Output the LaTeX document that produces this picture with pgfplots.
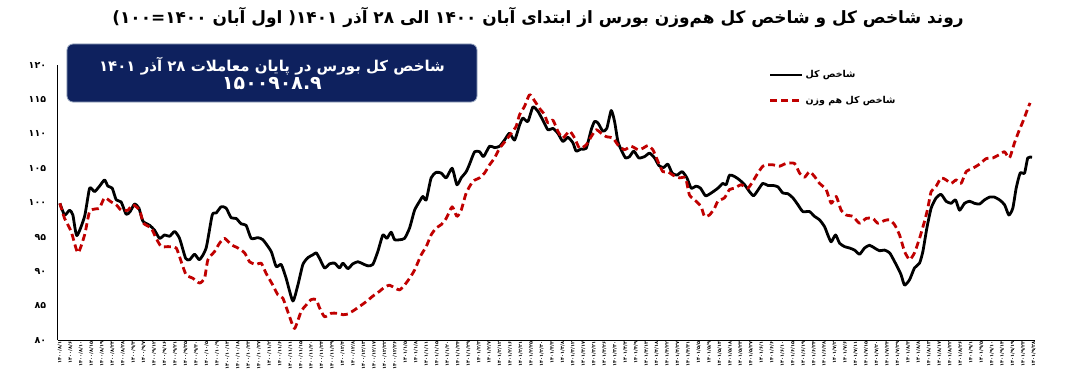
\documentclass[border=0pt]{standalone}
\usepackage{fontspec}
\usepackage{pgfplots}
\pgfplotsset{compat=1.18}
\TeXXeTstate=1
\newfontfamily\fa[Script=Arabic]{DejaVu Sans}
\newfontfamily\fanum{DejaVu Sans}
\definecolor{navy}{RGB}{14,33,94}
\definecolor{dred}{RGB}{192,0,0}
\definecolor{boxedge}{RGB}{150,165,190}
\begin{document}
\begin{tikzpicture}[x=1bp,y=1bp]
\useasboundingbox (0,0) rectangle (1079,380);
\begin{axis}[
  at={(55,58)}, anchor=south west,
  width=977bp, height=275bp, scale only axis,
  xmin=-0.22, xmax=93.1, ymin=80, ymax=120,
  axis x line=bottom, axis y line=left,
  axis line style={-, line width=0.9bp},
  major tick length=0pt,
  ytick={80,85,...,120},
  yticklabels={۸۰,۸۵,۹۰,۹۵,۱۰۰,۱۰۵,۱۱۰,۱۱۵,۱۲۰},
  yticklabel style={font=\fanum\bfseries\fontsize{9.5}{9.5}\selectfont, xshift=-8bp},
  xtick={0,...,93},
  xticklabels={۱۴۰۰/۸/۱,۱۴۰۰/۸/۶,۱۴۰۰/۸/۱۰,۱۴۰۰/۸/۱۵,۱۴۰۰/۸/۱۹,۱۴۰۰/۸/۲۴,۱۴۰۰/۸/۲۸,۱۴۰۰/۹/۳,۱۴۰۰/۹/۷,۱۴۰۰/۹/۱۲,۱۴۰۰/۹/۱۶,۱۴۰۰/۹/۲۱,۱۴۰۰/۹/۲۵,۱۴۰۰/۹/۳۰,۱۴۰۰/۱۰/۵,۱۴۰۰/۱۰/۹,۱۴۰۰/۱۰/۱۴,۱۴۰۰/۱۰/۱۸,۱۴۰۰/۱۰/۲۳,۱۴۰۰/۱۰/۲۷,۱۴۰۰/۱۱/۲,۱۴۰۰/۱۱/۶,۱۴۰۰/۱۱/۱۱,۱۴۰۰/۱۱/۱۵,۱۴۰۰/۱۱/۲۰,۱۴۰۰/۱۱/۲۴,۱۴۰۰/۱۱/۲۹,۱۴۰۰/۱۲/۴,۱۴۰۰/۱۲/۸,۱۴۰۰/۱۲/۱۳,۱۴۰۰/۱۲/۱۷,۱۴۰۰/۱۲/۲۲,۱۴۰۰/۱۲/۲۶,۱۴۰۱/۱/۵,۱۴۰۱/۱/۸,۱۴۰۱/۱/۱۱,۱۴۰۱/۱/۱۵,۱۴۰۱/۱/۲۰,۱۴۰۱/۱/۲۴,۱۴۰۱/۱/۲۹,۱۴۰۱/۲/۳,۱۴۰۱/۲/۷,۱۴۰۱/۲/۱۲,۱۴۰۱/۲/۱۶,۱۴۰۱/۲/۲۱,۱۴۰۱/۲/۲۵,۱۴۰۱/۲/۳۰,۱۴۰۱/۳/۳,۱۴۰۱/۳/۸,۱۴۰۱/۳/۱۲,۱۴۰۱/۳/۱۷,۱۴۰۱/۳/۲۱,۱۴۰۱/۳/۲۶,۱۴۰۱/۳/۳۰,۱۴۰۱/۴/۴,۱۴۰۱/۴/۹,۱۴۰۱/۴/۱۳,۱۴۰۱/۴/۱۸,۱۴۰۱/۴/۲۲,۱۴۰۱/۴/۲۷,۱۴۰۱/۴/۳۱,۱۴۰۱/۵/۵,۱۴۰۱/۵/۹,۱۴۰۱/۵/۱۴,۱۴۰۱/۵/۱۸,۱۴۰۱/۵/۲۳,۱۴۰۱/۵/۲۷,۱۴۰۱/۶/۱,۱۴۰۱/۶/۶,۱۴۰۱/۶/۱۰,۱۴۰۱/۶/۱۵,۱۴۰۱/۶/۱۹,۱۴۰۱/۶/۲۴,۱۴۰۱/۶/۲۸,۱۴۰۱/۷/۲,۱۴۰۱/۷/۶,۱۴۰۱/۷/۱۱,۱۴۰۱/۷/۱۵,۱۴۰۱/۷/۲۰,۱۴۰۱/۷/۲۴,۱۴۰۱/۷/۲۹,۱۴۰۱/۸/۳,۱۴۰۱/۸/۸,۱۴۰۱/۸/۱۳,۱۴۰۱/۸/۱۷,۱۴۰۱/۸/۲۲,۱۴۰۱/۸/۲۶,۱۴۰۱/۹/۱,۱۴۰۱/۹/۵,۱۴۰۱/۹/۱۰,۱۴۰۱/۹/۱۴,۱۴۰۱/۹/۱۹,۱۴۰۱/۹/۲۳,۱۴۰۱/۹/۲۸},
  xticklabel style={rotate=90, anchor=east, font=\fanum\bfseries\fontsize{5}{5}\selectfont, inner sep=1bp},
  legend style={at={(0.7247,0.995)}, anchor=north west, draw=none, fill=none,
    font=\fa\bfseries\fontsize{9.5}{11}\selectfont, row sep=13bp,
    /tikz/every even column/.append style={column sep=1bp}},
  legend cell align=left,
  legend image code/.code={\draw[#1] (0bp,0bp) -- (32bp,0bp);},
  every axis plot/.append style={line join=round},
]
\addplot[black, line width=2.8bp, smooth, tension=0.35] coordinates {
(0,99.9)(0.45,98.2)(0.93,98.9)(1.24,98.2)(1.62,95.2)(2.36,98.0)(2.84,102.1)(3.31,101.6)(3.79,102.4)(4.27,103.3)(4.58,102.4)(5.0,102.1)(5.38,100.4)(5.85,100.1)(6.33,98.3)(6.71,98.7)(7.13,99.8)(7.55,99.2)(7.93,97.3)(8.57,96.7)(9.04,96.0)(9.52,94.8)(10.0,95.3)(10.48,95.1)(10.96,95.8)(11.43,94.8)(12.01,91.9)(12.39,91.7)(12.87,92.5)(13.34,91.7)(13.97,93.4)(14.55,98.2)(14.93,98.5)(15.41,99.4)(15.88,99.2)(16.36,97.8)(16.84,97.7)(17.32,96.9)(17.79,96.7)(18.27,94.8)(18.91,94.9)(19.39,94.6)(20.18,92.9)(20.66,90.7)(21.14,91.0)(21.61,89.0)(22.25,85.7)(22.73,88.0)(23.21,91.0)(23.69,92.0)(24.16,92.4)(24.48,92.7)(24.80,91.9)(25.28,90.5)(25.76,91.1)(26.24,91.2)(26.71,90.5)(27.03,91.2)(27.51,90.4)(27.98,91.1)(28.46,91.4)(28.94,91.1)(29.42,90.8)(29.89,91.0)(30.37,92.9)(30.85,95.3)(31.23,94.8)(31.64,95.7)(31.97,94.6)(32.44,94.6)(32.92,94.8)(33.40,96.3)(33.88,98.9)(34.36,100.2)(34.67,100.9)(34.99,100.4)(35.46,103.6)(35.94,104.4)(36.42,104.3)(36.90,103.6)(37.47,105.0)(37.92,102.6)(38.33,103.6)(38.81,104.5)(39.13,105.6)(39.61,107.4)(40.09,107.4)(40.47,106.7)(41.04,108.2)(41.52,108.0)(42.0,108.2)(42.47,109.1)(42.95,110.1)(43.43,109.1)(43.91,111.3)(44.22,112.3)(44.70,111.8)(45.18,113.9)(45.65,113.3)(46.13,112.0)(46.61,110.6)(47.09,110.8)(47.56,110.1)(48.04,108.9)(48.52,109.5)(49.0,108.7)(49.31,107.5)(49.79,107.8)(50.27,107.9)(50.75,110.6)(51.07,111.8)(51.39,111.6)(51.86,110.4)(52.24,110.8)(52.66,113.4)(52.98,111.8)(53.30,108.9)(53.61,107.7)(54.03,106.5)(54.41,106.7)(54.82,107.5)(55.30,106.5)(55.85,106.7)(56.32,107.2)(56.80,106.5)(57.21,105.4)(57.66,105.1)(58.07,105.6)(58.48,104.3)(58.93,104.0)(59.44,104.5)(59.89,103.6)(60.30,102.1)(60.77,102.4)(61.19,102.1)(61.67,101.0)(62.21,101.4)(62.85,102.1)(63.32,102.8)(63.64,102.6)(63.96,104.0)(64.44,103.8)(64.92,103.3)(65.40,102.6)(65.87,101.6)(66.26,101.0)(66.67,101.8)(67.14,102.8)(67.62,102.5)(68.10,102.5)(68.58,102.3)(69.05,101.4)(69.53,101.3)(70.01,100.7)(70.49,99.7)(70.96,98.7)(71.60,98.7)(72.08,98.0)(72.56,97.5)(73.04,96.5)(73.35,95.3)(73.67,94.3)(74.09,95.3)(74.47,94.1)(74.95,93.6)(75.42,93.4)(75.90,93.1)(76.38,92.5)(76.86,93.4)(77.33,93.8)(77.81,93.4)(78.29,93.0)(78.77,93.1)(79.25,92.7)(79.63,91.7)(80.04,90.5)(80.35,89.5)(80.68,88.0)(81.16,88.8)(81.63,90.5)(82.11,91.2)(82.43,92.9)(82.81,96.3)(83.22,99.2)(83.70,100.7)(84.17,101.2)(84.65,100.2)(85.13,99.9)(85.55,100.4)(85.93,98.9)(86.41,99.9)(86.89,100.2)(87.36,99.9)(87.84,99.8)(88.32,100.4)(88.80,100.8)(89.27,100.8)(89.75,100.4)(90.23,99.7)(90.64,98.2)(91.02,99.2)(91.34,102.1)(91.72,104.3)(92.14,104.3)(92.45,106.5)(92.86,106.6)
};
\addlegendentry{\beginR شاخص کل\endR}
\addplot[dred, line width=2.8bp, dash pattern=on 7bp off 4bp, smooth, tension=0.35] coordinates {
(0,99.9)(0.45,97.7)(1.08,95.8)(1.72,92.7)(2.36,95.3)(2.84,98.7)(3.47,99.1)(3.79,99.2)(4.27,100.7)(4.90,100.1)(5.38,99.7)(5.85,98.9)(6.49,98.9)(6.97,99.7)(7.61,98.9)(7.99,97.0)(8.72,96.3)(9.20,94.8)(9.68,93.6)(10.32,93.6)(11.11,93.4)(11.59,91.4)(12.06,89.5)(12.70,89.0)(13.34,88.3)(13.82,89.0)(14.14,91.7)(14.78,92.9)(15.25,94.1)(15.73,94.8)(16.36,93.9)(17.0,93.4)(17.64,92.7)(18.12,91.4)(18.75,91.0)(19.23,91.2)(19.70,89.7)(20.34,88.0)(20.82,86.6)(21.30,86.1)(21.94,83.4)(22.42,81.7)(23.05,84.2)(23.52,85.1)(24.0,85.9)(24.48,85.9)(24.80,84.7)(25.28,83.4)(25.91,83.9)(26.55,83.9)(27.03,83.7)(27.51,83.8)(28.15,84.4)(28.62,84.9)(29.26,85.6)(29.89,86.4)(30.53,87.1)(31.01,87.7)(31.49,88.0)(31.97,87.6)(32.44,87.3)(32.92,88.0)(33.40,89.0)(33.88,90.2)(34.51,92.4)(34.99,93.6)(35.46,95.3)(35.94,96.3)(36.42,96.8)(36.90,97.7)(37.47,99.4)(37.92,98.0)(38.33,98.9)(38.81,101.4)(39.45,103.1)(40.09,103.6)(40.56,104.3)(41.04,105.5)(41.52,106.5)(42.0,107.9)(42.63,109.1)(43.11,110.1)(43.58,111.1)(43.91,112.8)(44.38,114.0)(44.86,115.7)(45.34,114.8)(45.82,113.7)(46.29,112.8)(46.61,111.6)(47.09,112.0)(47.56,110.4)(48.04,109.4)(48.68,110.4)(49.16,109.4)(49.64,107.9)(50.27,108.4)(50.75,109.6)(51.22,110.6)(51.70,110.1)(52.18,109.6)(52.82,109.4)(53.30,108.4)(53.93,107.7)(54.57,108.2)(55.21,107.7)(55.68,107.9)(56.16,108.3)(56.64,107.7)(57.12,106.0)(57.59,104.5)(58.07,104.5)(58.55,104.0)(59.19,103.6)(59.76,103.6)(60.14,101.1)(60.77,100.2)(61.25,99.4)(61.57,98.0)(62.05,98.2)(62.53,99.2)(62.85,100.2)(63.48,100.7)(63.96,101.9)(64.44,102.1)(65.07,102.6)(65.71,102.1)(66.19,103.1)(66.67,104.3)(67.14,105.3)(67.62,105.5)(68.10,105.5)(68.74,105.3)(69.37,105.7)(70.17,105.7)(70.65,104.3)(71.13,103.7)(71.60,104.5)(72.08,103.8)(72.56,102.8)(73.19,101.9)(73.67,99.9)(74.15,100.9)(74.62,98.9)(75.10,98.2)(75.74,98.0)(76.38,97.0)(77.01,97.7)(77.65,97.7)(78.13,97.0)(78.77,97.4)(79.25,97.5)(79.72,96.8)(80.20,95.3)(80.68,92.9)(81.16,91.7)(81.63,92.7)(82.11,94.8)(82.59,97.3)(82.90,99.2)(83.22,101.6)(83.70,102.4)(84.17,103.6)(84.65,103.3)(85.13,102.8)(85.61,103.3)(86.08,102.8)(86.56,104.5)(87.20,105.0)(87.84,105.6)(88.47,106.4)(89.11,106.5)(89.75,107.0)(90.23,107.4)(90.70,106.5)(91.18,108.7)(91.60,110.4)(92.04,112.0)(92.45,113.7)(92.67,114.5)
};
\addlegendentry{\beginR شاخص کل هم وزن\endR}
\end{axis}
\node[font=\fa\bfseries\fontsize{17}{17}\selectfont] at (538,363)
  {\beginR روند شاخص کل و شاخص کل هم‌وزن بورس از ابتدای آبان \beginL{\fanum ۱۴۰۰}\endL{} الی \beginL{\fanum ۲۸}\endL{} آذر \beginL{\fanum ۱۴۰۱}\endL( اول آبان \beginL{\fanum ۱۴۰۰}\endL=\beginL{\fanum ۱۰۰}\endL)\endR};
\node[fill=navy, draw=boxedge, line width=0.8bp, rounded corners=6bp,
      minimum width=410bp, minimum height=58bp, text=white, align=center,
      font=\fa\bfseries\fontsize{15}{18}\selectfont] at (272,307)
  {\beginR شاخص کل بورس در پایان معاملات \beginL{\fanum ۲۸}\endL{} آذر \beginL{\fanum ۱۴۰۱}\endL\endR\\ {\fanum\fontsize{19}{19}\selectfont ۱۵۰۰۹۰۸.۹}};
\end{tikzpicture}
\end{document}
